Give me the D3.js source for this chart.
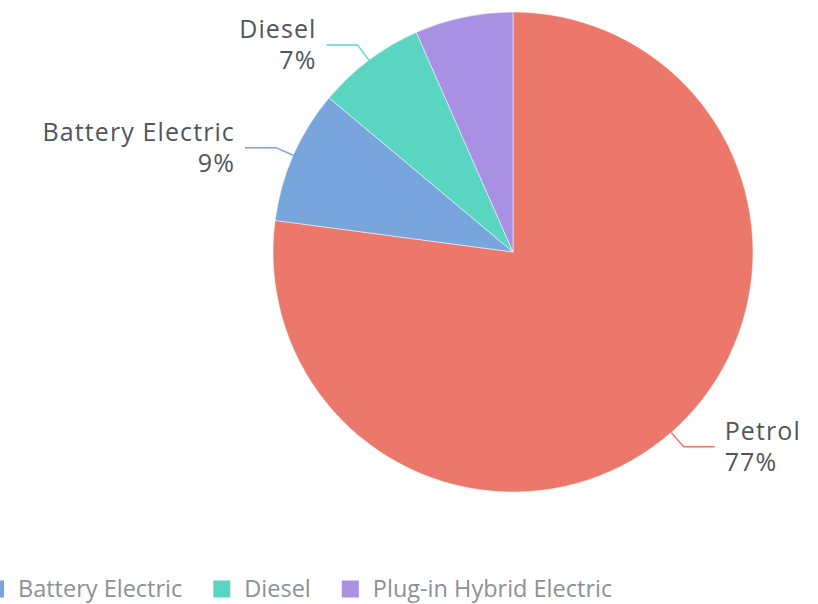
<!DOCTYPE html>
<html>
<head>
<meta charset="utf-8">
<script src="https://cdn.jsdelivr.net/npm/d3@7"></script>
<style>
  body { margin: 0; background: #fff; }
  svg { display: block; font-family: "Open Sans", "Noto Sans", sans-serif; }
</style>
</head>
<body>
<div id="chart"></div>
<script>
// fuel type share data
const categories = ["Petrol", "Battery Electric", "Diesel", "Plug-in Hybrid Electric"];
const shares = [77.1, 9.0, 7.3, 6.6];
const percentLabels = ["77%", "9%", "7%", "7%"];
const showLabel = [true, true, true, false];
const colors = ["#EB786A", "#78A6DC", "#5AD5C2", "#A891E2"];
// legend items visible in the strip (Petrol scrolled out on the left)
const legendItems = ["Battery Electric", "Diesel", "Plug-in Hybrid Electric"];

const width = 818, height = 604;
const cx = 513, cy = 252, radius = 240;

const svg = d3.select("#chart").append("svg")
    .attr("width", width)
    .attr("height", height);

const data = categories.map((c, i) => ({ name: c, value: shares[i], label: percentLabels[i], show: showLabel[i], color: colors[i] }));
const colorOf = d3.scaleOrdinal().domain(categories).range(colors);

const pie = d3.pie().sort(null).value(d => d.value);
const arcs = pie(data);
const arc = d3.arc().innerRadius(0).outerRadius(radius);

const chart = svg.append("g").attr("transform", `translate(${cx},${cy})`);

chart.selectAll("path.slice")
    .data(arcs)
    .enter().append("path")
    .attr("class", "slice")
    .attr("fill", d => d.data.color)
    .attr("stroke", "#fff")
    .attr("stroke-width", 0.5)
    .attr("d", arc);

// leader lines + labels
function pointAt(angle, r) {
    return [r * Math.sin(angle), -r * Math.cos(angle)];
}

const labels = chart.append("g").attr("class", "labels");

arcs.filter(d => d.data.show).forEach(d => {
    const mid = (d.startAngle + d.endAngle) / 2;
    const p0 = pointAt(mid, radius);
    const p1 = pointAt(mid, radius + 19);
    const right = Math.sin(mid) > 0;
    const p2 = [p1[0] + (right ? 31 : -31), p1[1]];
    labels.append("polyline")
        .attr("points", [p0, p1, p2].map(p => p.join(",")).join(" "))
        .attr("fill", "none")
        .attr("stroke", d.data.color)
        .attr("stroke-width", 1.5);
    const tx = p2[0] + (right ? 10 : -10);
    [[d.data.name, -7], [d.data.label, 24]].forEach(([txt, dy]) => {
        labels.append("text")
            .attr("x", tx)
            .attr("y", p2[1] + dy)
            .attr("text-anchor", right ? "start" : "end")
            .style("font-size", "25px")
            .style("letter-spacing", "1.1px")
            .style("fill", "#50565d")
            .text(txt);
    });
});

// legend
const legend = svg.append("g").attr("class", "legend");
const sq = 17, textGap = 14, itemGap = 31, legendY = 589;
const items = legend.selectAll("g").data(legendItems).enter().append("g");
items.append("rect")
    .attr("width", sq).attr("height", sq)
    .attr("y", legendY - sq / 2)
    .attr("fill", d => colorOf(d));
items.append("text")
    .attr("x", sq + textGap)
    .attr("y", legendY)
    .attr("dy", "0.35em")
    .style("font-size", "23.5px")
    .style("fill", "#8c9196")
    .text(d => d);

const widths = [];
items.each(function () { widths.push(this.getBBox().width); });
// the Battery Electric swatch starts just past the left edge
let acc = -13;
const offsets = widths.map(w => { const o = acc; acc += w + itemGap; return o; });
items.attr("transform", (d, i) => `translate(${offsets[i]},0)`);
</script>
</body>
</html>
